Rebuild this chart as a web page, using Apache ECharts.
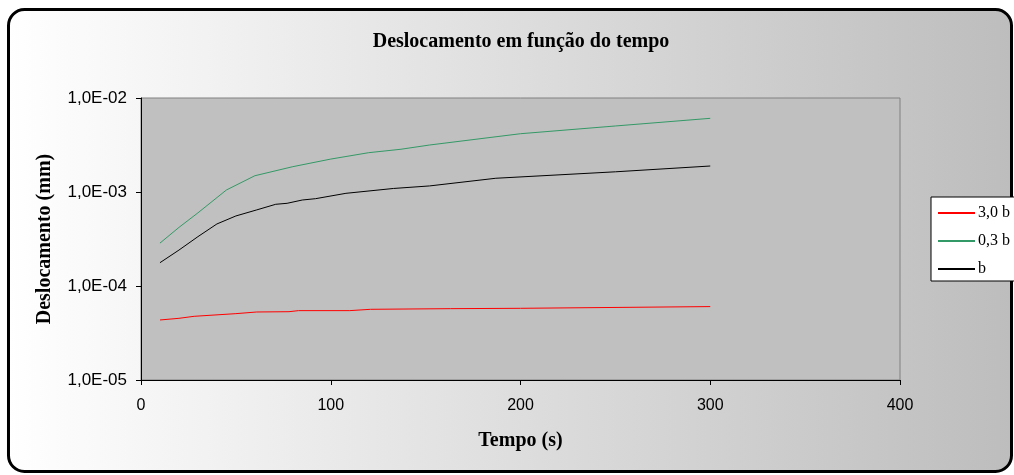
<!DOCTYPE html>
<html><head><meta charset="utf-8">
<script src="https://cdn.jsdelivr.net/npm/echarts@6/dist/echarts.min.js"></script>
<style>html,body{margin:0;padding:0;background:#fff;}#c{width:1014px;height:475px;}</style>
</head><body><div id="c"></div>
<script>
var xTicks = [0, 100, 200, 300, 400];
var yTickLabels = ['1,0E-05', '1,0E-04', '1,0E-03', '1,0E-02'];
var seriesNames = ['3,0 b', '0,3 b', 'b'];

var red3b = [[10,4.35e-5],[20,4.53e-5],[28,4.76e-5],[50,5.08e-5],[61,5.29e-5],[78,5.33e-5],[83,5.47e-5],[110,5.47e-5],[121,5.65e-5],[163,5.74e-5],[200,5.79e-5],[300,6.04e-5]];
var green03b = [[10,2.86e-4],[20,4.2e-4],[30,6.0e-4],[45,1.05e-3],[60,1.49e-3],[80,1.86e-3],[100,2.24e-3],[120,2.62e-3],[137,2.85e-3],[152,3.16e-3],[200,4.17e-3],[250,5.04e-3],[300,6.08e-3]];
var blackB = [[10,1.77e-4],[20,2.41e-4],[30,3.35e-4],[40,4.57e-4],[50,5.56e-4],[61,6.45e-4],[71,7.40e-4],[77,7.58e-4],[85,8.22e-4],[92,8.49e-4],[108,9.68e-4],[133,1.09e-3],[152,1.16e-3],[187,1.40e-3],[250,1.64e-3],[300,1.89e-3]];

var chart = echarts.init(document.getElementById('c'), null, {renderer: 'canvas'});
var serif = '"Liberation Serif", "DejaVu Serif", serif';
var sans = '"Liberation Sans", Arial, sans-serif';
function mk(name, data, color) {
  return {name: name, type: 'line', data: data, showSymbol: false, symbol: 'none',
    lineStyle: {color: color, width: 1}, itemStyle: {color: color}, animation: false, z: 3};
}
chart.setOption({
  animation: false,
  backgroundColor: 'transparent',
  graphic: [{
    type: 'rect', z: -10, silent: true,
    shape: {x: 8.5, y: 9.5, width: 1003, height: 462, r: 16},
    style: {
      fill: new echarts.graphic.LinearGradient(0, 0, 1, 0, [{offset: 0, color: '#ffffff'}, {offset: 1, color: '#bdbdbd'}]),
      stroke: '#000', lineWidth: 3
    }
  }],
  title: {
    text: 'Deslocamento em função do tempo',
    left: 516, top: 27, textAlign: 'center',
    textStyle: {fontFamily: serif, fontWeight: 'bold', fontSize: 20, color: '#000'}
  },
  legend: {
    orient: 'vertical', left: 931, top: 197,
    data: seriesNames,
    icon: 'rect', itemWidth: 37, itemHeight: 2, itemGap: 12,
    padding: [8, 10, 4, 7],
    backgroundColor: '#fff', borderColor: '#000', borderWidth: 1, borderRadius: 0,
    textStyle: {fontFamily: serif, fontSize: 16, color: '#000', padding: [0, 0, 0, -2], lineHeight: 16}
  },
  grid: {left: 141, top: 98, width: 759, height: 282, show: true,
    backgroundColor: '#c0c0c0', borderColor: '#808080', borderWidth: 1},
  xAxis: {
    type: 'value', min: xTicks[0], max: xTicks[xTicks.length - 1], interval: 100,
    name: 'Tempo (s)', nameLocation: 'middle', nameGap: 51,
    nameTextStyle: {fontFamily: serif, fontWeight: 'bold', fontSize: 20, color: '#000'},
    axisLine: {show: true, lineStyle: {color: '#000', width: 1}},
    axisTick: {show: true, inside: false, length: 5, lineStyle: {color: '#000'}},
    axisLabel: {fontFamily: sans, fontSize: 16, color: '#000', margin: 18},
    splitLine: {show: false}
  },
  yAxis: {
    type: 'log', logBase: 10, min: 1e-5, max: 1e-2,
    name: 'Deslocamento (mm)', nameLocation: 'middle', nameGap: 86, nameRotate: 90,
    nameTextStyle: {fontFamily: serif, fontWeight: 'bold', fontSize: 20, color: '#000'},
    axisLine: {show: true, lineStyle: {color: '#000', width: 1}},
    axisTick: {show: true, inside: false, length: 5, lineStyle: {color: '#000'}},
    axisLabel: {fontFamily: sans, fontSize: 17, color: '#000', margin: 14,
      formatter: function (v) { var e = Math.round(Math.log10(v)); return yTickLabels[e + 5]; }},
    splitLine: {show: false}
  },
  series: [mk(seriesNames[0], red3b, '#ff0000'), mk(seriesNames[1], green03b, '#339966'), mk(seriesNames[2], blackB, '#000000')]
});
</script></body></html>
